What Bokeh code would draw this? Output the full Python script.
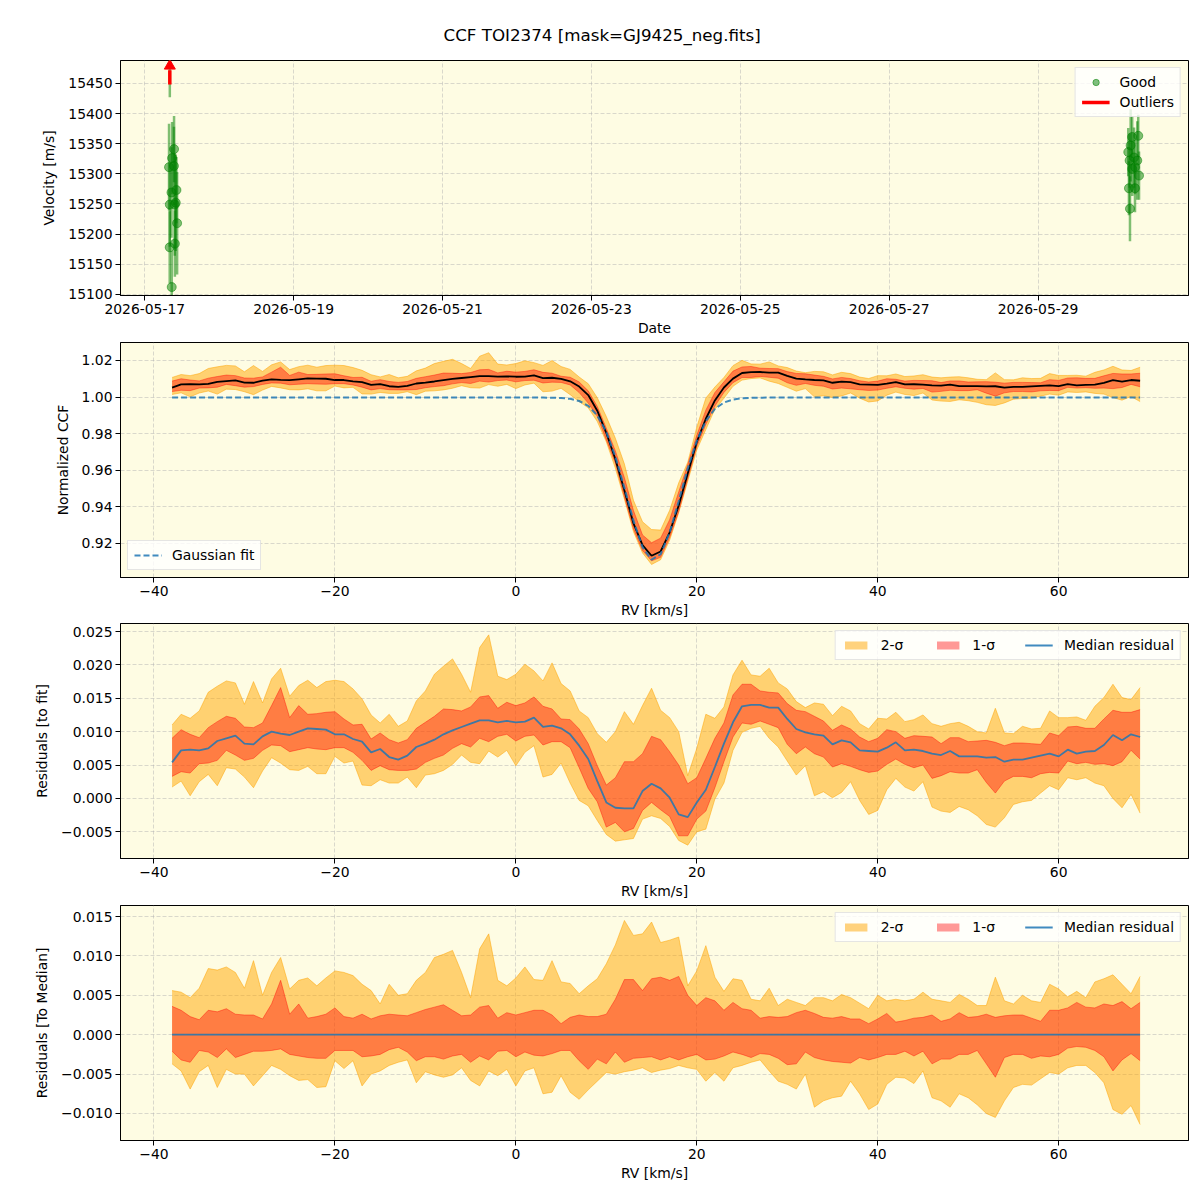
import numpy as np
import pandas as pd
from bokeh.plotting import figure
from bokeh.layouts import column
from bokeh.models import (Range1d, FixedTicker, DaysTicker, DatetimeTickFormatter,
                          CustomJSTickFormatter, Legend, LegendItem, ColumnDataSource)
from bokeh.embed import file_html
from bokeh.resources import INLINE

FONT = "DejaVu Sans"
FS = "13.9px"
BG = "#fefce3"
C0 = "#1f77b4"

# ---------------- radial-velocity time series ----------------
good_time = ["2026-05-17 07:49", "2026-05-17 08:04", "2026-05-17 08:02", "2026-05-17 08:36",
             "2026-05-17 08:41", "2026-05-17 08:48", "2026-05-17 09:24", "2026-05-17 09:26",
             "2026-05-17 09:40", "2026-05-17 09:42", "2026-05-17 09:59", "2026-05-17 10:12",
             "2026-05-17 10:25",
             "2026-05-30 05:05", "2026-05-30 05:18", "2026-05-30 05:31", "2026-05-30 05:38",
             "2026-05-30 05:51", "2026-05-30 06:20", "2026-05-30 06:23", "2026-05-30 06:56",
             "2026-05-30 07:15", "2026-05-30 07:17", "2026-05-30 07:59", "2026-05-30 08:18",
             "2026-05-30 08:33"]
good_vel = [15311, 15249, 15178, 15269, 15112, 15326, 15313, 15341, 15249, 15184, 15252, 15273,
            15218,
            15336, 15276, 15322, 15242, 15347, 15361, 15308, 15327, 15276, 15311, 15322, 15363,
            15297]
good_err = [72, 70, 60, 75, 60, 60, 65, 55, 85, 55, 80, 55, 85,
            40, 45, 45, 54, 60, 35, 45, 50, 40, 45, 65, 35, 40]

outlier_time = ["2026-05-17 08:04"]
outlier_vel = [15505]
outlier_err = [78]

vel_ticks = [15100, 15150, 15200, 15250, 15300, 15350, 15400, 15450]
VEL_LO, VEL_HI = 15098, 15488

# ---------------- CCF profile and residuals ----------------
rv = np.arange(-38, 70)

res_median = [
    0.0054, 0.0072, 0.0073, 0.0072, 0.0075, 0.0086, 0.0090, 0.0094, 0.0082, 0.0081,
    0.0093, 0.0100, 0.0097, 0.0095, 0.0100, 0.0105, 0.0104, 0.0103, 0.0096, 0.0096,
    0.0089, 0.0085, 0.0069, 0.0074, 0.0062, 0.0058, 0.0064, 0.0077, 0.0082, 0.0088,
    0.0096, 0.0102, 0.0107, 0.0112, 0.0117, 0.0117,
    0.0114, 0.0116, 0.0114, 0.0115, 0.0121, 0.0107, 0.0109, 0.0105, 0.0096, 0.0079,
    0.0059, 0.0026, -0.0006, -0.0014, -0.0015, -0.0015, 0.0011, 0.0022, 0.0015, 0.0001,
    -0.0024, -0.0028, -0.0006, 0.0013, 0.0047, 0.0082, 0.0114, 0.0138, 0.0140, 0.0140,
    0.0136, 0.0136, 0.0119, 0.0104, 0.0099,
    0.0096, 0.0094, 0.0081, 0.0087, 0.0084, 0.0072, 0.0071, 0.0070, 0.0076, 0.0084,
    0.0072, 0.0073, 0.0071, 0.0067, 0.0065, 0.0071, 0.0063, 0.0063, 0.0063, 0.0061,
    0.0062, 0.0055, 0.0058, 0.0058, 0.0061, 0.0064, 0.0067, 0.0063, 0.0073, 0.0067,
    0.0070, 0.0071, 0.0080, 0.0095, 0.0087, 0.0096, 0.0092]

# spread of the individual CCFs around the median (upper/lower 2-sigma and 1-sigma)
dev_hi2 = [
    0.0056, 0.0054, 0.0047, 0.0059, 0.0084, 0.0082, 0.0086, 0.0079, 0.0059, 0.0094,
    0.0050, 0.0079, 0.0098, 0.0058, 0.0069, 0.0072, 0.0062, 0.0072, 0.0081, 0.0079,
    0.0075, 0.0064, 0.0056, 0.0039, 0.0064, 0.0050, 0.0052, 0.0069, 0.0079, 0.0098,
    0.0102, 0.0107, 0.0079, 0.0047, 0.0109, 0.0128,
    0.0069, 0.0062, 0.0072, 0.0086, 0.0070, 0.0069, 0.0094, 0.0067, 0.0065, 0.0052,
    0.0062, 0.0071, 0.0090, 0.0114, 0.0145, 0.0126, 0.0128, 0.0143, 0.0117, 0.0120,
    0.0124, 0.0062, 0.0081, 0.0113, 0.0073, 0.0055, 0.0071, 0.0069, 0.0045, 0.0043,
    0.0059, 0.0037, 0.0045, 0.0041, 0.0037,
    0.0047, 0.0047, 0.0043, 0.0051, 0.0047, 0.0040, 0.0033, 0.0050, 0.0043, 0.0045,
    0.0043, 0.0045, 0.0054, 0.0045, 0.0043, 0.0041, 0.0051, 0.0045, 0.0037, 0.0037,
    0.0073, 0.0043, 0.0039, 0.0050, 0.0043, 0.0041, 0.0064, 0.0058, 0.0048, 0.0055,
    0.0047, 0.0067, 0.0071, 0.0076, 0.0064, 0.0052, 0.0074]
dev_hi1 = [
    0.0036, 0.0031, 0.0023, 0.0019, 0.0031, 0.0029, 0.0033, 0.0026, 0.0025, 0.0025,
    0.0020, 0.0039, 0.0069, 0.0026, 0.0039, 0.0021, 0.0023, 0.0026, 0.0034, 0.0023,
    0.0021, 0.0026, 0.0020, 0.0024, 0.0026, 0.0025, 0.0024, 0.0028, 0.0032, 0.0035,
    0.0038, 0.0031, 0.0024, 0.0025, 0.0035, 0.0037,
    0.0021, 0.0028, 0.0025, 0.0028, 0.0031, 0.0031, 0.0025, 0.0014, 0.0022, 0.0025,
    0.0023, 0.0023, 0.0026, 0.0045, 0.0070, 0.0070, 0.0056, 0.0071, 0.0073, 0.0069,
    0.0074, 0.0050, 0.0037, 0.0047, 0.0043, 0.0031, 0.0041, 0.0033, 0.0031, 0.0021,
    0.0023, 0.0022, 0.0023, 0.0028, 0.0031,
    0.0027, 0.0022, 0.0021, 0.0023, 0.0020, 0.0020, 0.0014, 0.0020, 0.0027, 0.0016,
    0.0018, 0.0021, 0.0022, 0.0025, 0.0017, 0.0020, 0.0028, 0.0022, 0.0023, 0.0026,
    0.0022, 0.0024, 0.0025, 0.0025, 0.0021, 0.0017, 0.0031, 0.0031, 0.0034, 0.0041,
    0.0035, 0.0034, 0.0039, 0.0037, 0.0042, 0.0033, 0.0041]
dev_lo1 = [
    -0.0021, -0.0032, -0.0035, -0.0020, -0.0022, -0.0029, -0.0018, -0.0029, -0.0025, -0.0021,
    -0.0021, -0.0020, -0.0018, -0.0025, -0.0027, -0.0029, -0.0030, -0.0030, -0.0020, -0.0020,
    -0.0020, -0.0028, -0.0027, -0.0025, -0.0019, -0.0016, -0.0022, -0.0033, -0.0028, -0.0028,
    -0.0031, -0.0027, -0.0025, -0.0035, -0.0027, -0.0032,
    -0.0021, -0.0020, -0.0028, -0.0022, -0.0026, -0.0027, -0.0024, -0.0020, -0.0020, -0.0033,
    -0.0044, -0.0031, -0.0037, -0.0022, -0.0035, -0.0030, -0.0029, -0.0028, -0.0032, -0.0028,
    -0.0032, -0.0028, -0.0025, -0.0032, -0.0031, -0.0027, -0.0022, -0.0025, -0.0029, -0.0024,
    -0.0025, -0.0030, -0.0038, -0.0037, -0.0022,
    -0.0029, -0.0032, -0.0034, -0.0035, -0.0036, -0.0029, -0.0032, -0.0029, -0.0025, -0.0025,
    -0.0021, -0.0027, -0.0021, -0.0037, -0.0031, -0.0031, -0.0025, -0.0025, -0.0020, -0.0037,
    -0.0054, -0.0029, -0.0025, -0.0025, -0.0030, -0.0027, -0.0028, -0.0025, -0.0017, -0.0015,
    -0.0016, -0.0020, -0.0028, -0.0046, -0.0032, -0.0024, -0.0033]
dev_lo2 = [
    -0.0037, -0.0046, -0.0069, -0.0047, -0.0039, -0.0067, -0.0044, -0.0050, -0.0050, -0.0065,
    -0.0052, -0.0039, -0.0044, -0.0052, -0.0058, -0.0057, -0.0067, -0.0066, -0.0033, -0.0043,
    -0.0033, -0.0065, -0.0050, -0.0046, -0.0039, -0.0035, -0.0032, -0.0061, -0.0047, -0.0051,
    -0.0054, -0.0051, -0.0042, -0.0058, -0.0065, -0.0046,
    -0.0052, -0.0044, -0.0065, -0.0046, -0.0042, -0.0075, -0.0073, -0.0052, -0.0073, -0.0082,
    -0.0070, -0.0059, -0.0048, -0.0050, -0.0047, -0.0045, -0.0042, -0.0048, -0.0045, -0.0043,
    -0.0039, -0.0042, -0.0044, -0.0059, -0.0048, -0.0059, -0.0042, -0.0039, -0.0035, -0.0032,
    -0.0046, -0.0059, -0.0063, -0.0069, -0.0050,
    -0.0092, -0.0084, -0.0080, -0.0078, -0.0059, -0.0075, -0.0095, -0.0088, -0.0063, -0.0054,
    -0.0055, -0.0062, -0.0046, -0.0080, -0.0084, -0.0092, -0.0075, -0.0080, -0.0089, -0.0100,
    -0.0105, -0.0084, -0.0067, -0.0063, -0.0064, -0.0056, -0.0048, -0.0050, -0.0042, -0.0039,
    -0.0039, -0.0048, -0.0061, -0.0095, -0.0101, -0.0090, -0.0114]
res_to_median = [0.0] * len(rv)

# Gaussian model of the absorption profile
fit_continuum = 0.9997
fit_depth = 0.0888
fit_center = 15.2
fit_sigma = 2.95

ccf_ticks = [0.92, 0.94, 0.96, 0.98, 1.00, 1.02]
res_fit_ticks = [-0.005, 0.0, 0.005, 0.010, 0.015, 0.020, 0.025]
res_med_ticks = [-0.010, -0.005, 0.0, 0.005, 0.010, 0.015]
rv_ticks = [-40, -20, 0, 20, 40, 60]

# ---------------- derived quantities ----------------
med = np.array(res_median)
hi2, hi1 = np.array(dev_hi2), np.array(dev_hi1)
lo1, lo2 = np.array(dev_lo1), np.array(dev_lo2)
gauss_fit = fit_continuum - fit_depth * np.exp(-0.5 * ((rv - fit_center) / fit_sigma) ** 2)
ccf_med = gauss_fit + med

RV_RANGE = (-43.7, 74.35)


def style(p, xlabel, ylabel, ylab_standoff):
    p.background_fill_color = BG
    p.border_fill_color = "white"
    p.outline_line_color = "black"
    p.outline_line_width = 1
    p.xaxis.axis_label = xlabel
    p.yaxis.axis_label = ylabel
    for ax in p.axis:
        ax.axis_label_text_font = FONT
        ax.axis_label_text_font_size = FS
        ax.axis_label_text_font_style = "normal"
        ax.axis_label_text_color = "black"
        ax.major_label_text_font = FONT
        ax.major_label_text_font_size = FS
        ax.major_label_text_color = "black"
        ax.major_tick_out = 5
        ax.major_tick_in = 0
        ax.major_tick_line_color = "black"
        ax.minor_tick_line_color = None
        ax.axis_line_color = "black"
        ax.major_label_standoff = 3
        ax.axis_label_standoff = 3
    p.yaxis.axis_label_standoff = ylab_standoff
    for g in p.grid:
        g.grid_line_color = "#b0b0b0"
        g.grid_line_alpha = 0.6
        g.grid_line_dash = "4 2"
        g.grid_line_width = 0.8


def style_legend(lg):
    lg.label_text_font = FONT
    lg.label_text_font_size = FS
    lg.label_text_color = "black"
    lg.border_line_color = "#cccccc"
    lg.border_line_width = 1
    lg.background_fill_color = "white"
    lg.background_fill_alpha = 0.8
    lg.padding = 6
    lg.margin = 7
    lg.glyph_width = 28
    lg.glyph_height = 14
    lg.label_standoff = 10
    lg.label_height = 16


def num_fmt(digits):
    return CustomJSTickFormatter(
        code="return tick.toFixed(%d).replace('-', '\\u2212');" % digits)


# ---------------- panel 1: velocities ----------------
t_good = pd.to_datetime(good_time)
t_out = pd.to_datetime(outlier_time)
src_good = ColumnDataSource(dict(
    t=t_good, v=good_vel,
    lo=[v - e for v, e in zip(good_vel, good_err)],
    hi=[v + e for v, e in zip(good_vel, good_err)]))

p1 = figure(x_axis_type="datetime", frame_width=1068, frame_height=235,
            min_border_left=120, min_border_right=12, min_border_top=60, min_border_bottom=42,
            x_range=Range1d(pd.Timestamp("2026-05-16 16:10").to_pydatetime(),
                            pd.Timestamp("2026-05-31 00:30").to_pydatetime()),
            y_range=Range1d(VEL_LO, VEL_HI),
            output_backend="svg", toolbar_location=None)
p1.title.text = "CCF TOI2374 [mask=GJ9425_neg.fits]"
p1.title.align = "left"
p1.title.offset = 323
p1.title.text_font = FONT
p1.title.text_font_size = "16.7px"
p1.title.text_font_style = "normal"
p1.title.text_color = "black"
p1.title.standoff = 32

style(p1, "Date", "Velocity [m/s]", 8)
p1.xaxis.ticker = DaysTicker(days=list(range(1, 32, 2)))
p1.xgrid.ticker = p1.xaxis[0].ticker
p1.xaxis.formatter = DatetimeTickFormatter(days="%Y-%m-%d", months="%Y-%m-%d",
                                           hours="%Y-%m-%d")
p1.yaxis.ticker = FixedTicker(ticks=vel_ticks)

p1.segment("t", "lo", "t", "hi", source=src_good, line_color="green",
           line_alpha=0.5, line_width=2.5)
good_r = p1.scatter("t", "v", source=src_good, marker="circle", size=9,
                    fill_color="green", fill_alpha=0.5, line_color="green", line_alpha=0.5)

# outliers lie above the plotted range: error bar plus an arrow at the upper edge
p1.segment(t_out, [v - e for v, e in zip(outlier_vel, outlier_err)], t_out,
           [v + e for v, e in zip(outlier_vel, outlier_err)],
           line_color="green", line_alpha=0.5, line_width=2.5)
shaft_r = p1.segment(t_out, [VEL_HI - 40] * len(t_out), t_out, [VEL_HI - 16] * len(t_out),
                     line_color="red", line_width=3.5)
p1.scatter(t_out, [VEL_HI - 9] * len(t_out), marker="triangle", size=11,
           fill_color="red", line_color="red")

lg1 = Legend(items=[LegendItem(label="Good", renderers=[good_r]),
                    LegendItem(label="Outliers", renderers=[shaft_r])],
             location="top_right")
style_legend(lg1)
lg1.spacing = 4
lg1.glyph_height = 16
p1.add_layout(lg1)

# ---------------- panel 2: normalized CCF ----------------
src_ccf = ColumnDataSource(dict(
    rv=rv, med=ccf_med, fit=gauss_fit,
    hi2=ccf_med + hi2, lo2=ccf_med + lo2, hi1=ccf_med + hi1, lo1=ccf_med + lo1))

p2 = figure(frame_width=1068, frame_height=235,
            min_border_left=120, min_border_right=12, min_border_top=4, min_border_bottom=41,
            x_range=Range1d(*RV_RANGE), y_range=Range1d(0.9014, 1.0298),
            output_backend="svg", toolbar_location=None)
style(p2, "RV [km/s]", "Normalized CCF", 8)
p2.xaxis.ticker = FixedTicker(ticks=rv_ticks)
p2.yaxis.ticker = FixedTicker(ticks=ccf_ticks)
p2.xaxis.formatter = num_fmt(0)
p2.yaxis.formatter = num_fmt(2)


def draw_bands(p, src):
    r2 = p.varea("rv", "lo2", "hi2", source=src, fill_color="orange", fill_alpha=0.5)
    for c in ("lo2", "hi2"):
        p.line("rv", c, source=src, line_color="orange", line_alpha=0.5, line_width=1)
    r1 = p.varea("rv", "lo1", "hi1", source=src, fill_color="red", fill_alpha=0.4)
    for c in ("lo1", "hi1"):
        p.line("rv", c, source=src, line_color="red", line_alpha=0.4, line_width=1)
    return r2, r1


draw_bands(p2, src_ccf)
p2.line("rv", "med", source=src_ccf, line_color="black", line_width=1.8)
fit_r = p2.line("rv", "fit", source=src_ccf, line_color=C0, line_alpha=0.85,
                line_width=2, line_dash="6 3")
lg2 = Legend(items=[LegendItem(label="Gaussian fit", renderers=[fit_r])],
             location="bottom_left")
style_legend(lg2)
p2.add_layout(lg2)

# ---------------- panels 3 and 4: residuals ----------------
src_rfit = ColumnDataSource(dict(
    rv=rv, med=med, hi2=med + hi2, lo2=med + lo2, hi1=med + hi1, lo1=med + lo1))
src_rmed = ColumnDataSource(dict(
    rv=rv, med=res_to_median, hi2=hi2, lo2=lo2, hi1=hi1, lo1=lo1))


def residual_panel(src, ylabel, yrange, ticks, top_border):
    p = figure(frame_width=1068, frame_height=235,
               min_border_left=120, min_border_right=12, min_border_top=top_border,
               min_border_bottom=41,
               x_range=Range1d(*RV_RANGE), y_range=Range1d(*yrange),
               output_backend="svg", toolbar_location=None)
    style(p, "RV [km/s]", ylabel, 8)
    p.xaxis.ticker = FixedTicker(ticks=rv_ticks)
    p.yaxis.ticker = FixedTicker(ticks=ticks)
    p.xaxis.formatter = num_fmt(0)
    p.yaxis.formatter = num_fmt(3)
    r2, r1 = draw_bands(p, src)
    rm = p.line("rv", "med", source=src, line_color=C0, line_alpha=0.85, line_width=1.8)
    lg = Legend(items=[LegendItem(label="2-σ", renderers=[r2]),
                       LegendItem(label="1-σ", renderers=[r1]),
                       LegendItem(label="Median residual", renderers=[rm])],
                location="top_right", orientation="horizontal")
    style_legend(lg)
    lg.spacing = 30
    lg.glyph_height = 10
    lg.label_standoff = 11
    p.add_layout(lg)
    return p


p3 = residual_panel(src_rfit, "Residuals [to fit]", (-0.0090, 0.0262), res_fit_ticks, 3)
p4 = residual_panel(src_rmed, "Residuals [To Median]", (-0.01343, 0.0164), res_med_ticks, 4)

layout = column(p1, p2, p3, p4, spacing=0)
open("out.html", "w").write(file_html(layout, INLINE))
